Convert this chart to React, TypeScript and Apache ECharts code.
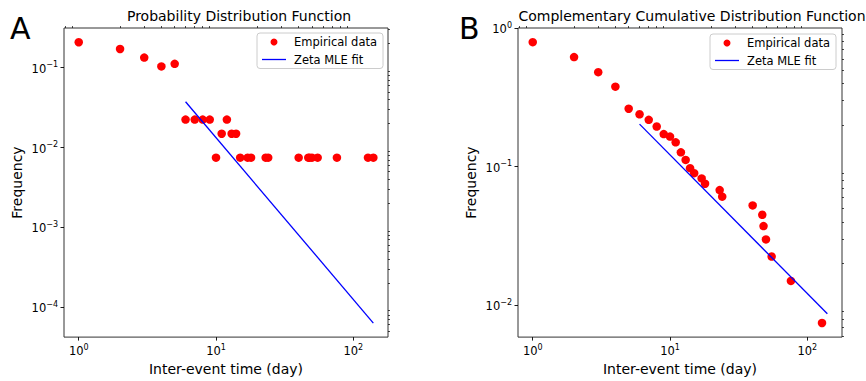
import React, { useEffect, useRef } from 'react';
import * as echarts from 'echarts';

const FONT = 'DejaVu Sans';

// Panel A: probability distribution (empirical)
const pdfX = [1, 2, 3, 4, 5, 6, 7, 8, 9, 10, 11, 12, 13, 14, 15, 17, 18, 23, 24, 40, 47, 48, 50, 55, 76, 128, 140];
const pdfY = [0.209, 0.172, 0.134, 0.104, 0.112, 0.0224, 0.0224, 0.0224, 0.0224, 0.00746, 0.0149, 0.0224, 0.0149, 0.0149, 0.00746,
  0.00746, 0.00746, 0.00746, 0.00746, 0.00746, 0.00746, 0.00746, 0.00746, 0.00746, 0.00746, 0.00746, 0.00746];

// Panel B: complementary cumulative distribution (empirical)
const ccdfX = [1, 2, 3, 4, 5, 6, 7, 8, 9, 10, 11, 12, 13, 14, 15, 17, 18, 23, 24, 40, 47, 48, 50, 55, 76, 128];
const ccdfY = [0.792, 0.618, 0.481, 0.378, 0.262, 0.239, 0.218, 0.195, 0.172, 0.165, 0.150, 0.127, 0.112, 0.0977, 0.0899,
  0.0824, 0.0754, 0.0678, 0.0608, 0.0526, 0.045, 0.0373, 0.0299, 0.0225, 0.015, 0.00746];

// Zeta MLE fit lines
const fitX = [6, 140];
const pdfFitY = [0.0375, 6.3e-5];
const ccdfFitY = [0.203, 0.0087];

// Tick values
const xMajor = [1, 10, 100];
const yMajorA = [1e-4, 1e-3, 1e-2, 1e-1];
const yMajorB = [1e-2, 1e-1, 1];

const xRange = [0.781, 179];
const yRangeA = [4.2e-5, 0.315];
const yRangeB = [0.0059, 1.002];

function fmtPow(v: number) {
  const e = Math.round(Math.log10(v));
  return '{b|10}{s|' + (e < 0 ? '−' : '') + Math.abs(e) + '}';
}

const labelRich = {
  b: { fontFamily: FONT, fontSize: 11.5, color: '#000', lineHeight: 14, verticalAlign: 'bottom' },
  s: { fontFamily: FONT, fontSize: 8, color: '#000', lineHeight: 9, verticalAlign: 'top', padding: [0, 0, 1, 0] },
};

function minorTicks(min: number, max: number) {
  const out: number[] = [];
  for (let k = Math.floor(Math.log10(min)); k <= Math.ceil(Math.log10(max)); k++) {
    for (let m = 2; m <= 9; m++) {
      const v = Number((m * Math.pow(10, k)).toPrecision(6));
      if (v >= min && v <= max) out.push(v);
    }
  }
  return out;
}

const tickColor = '#000';

function majorAxis(gridIndex: number, range: number[], ticks: number[], name: string, nameGap: number) {
  return {
    type: 'log',
    logBase: 10,
    gridIndex,
    min: range[0],
    max: range[1],
    name,
    nameLocation: 'middle',
    nameGap,
    nameTextStyle: { fontFamily: FONT, fontSize: 14, color: '#000' },
    axisLine: { show: false },
    axisTick: { show: true, inside: false, length: 3.5, customValues: ticks, lineStyle: { color: tickColor, width: 0.9 } },
    axisLabel: { show: true, customValues: ticks, margin: 6, formatter: fmtPow, rich: labelRich, color: '#000' },
    splitLine: { show: false },
    minorTick: { show: false },
  };
}

function minorAxis(gridIndex: number, range: number[]) {
  return {
    type: 'log',
    logBase: 10,
    gridIndex,
    min: range[0],
    max: range[1],
    axisLine: { show: false },
    axisTick: { show: true, inside: false, length: 2, customValues: minorTicks(range[0], range[1]), lineStyle: { color: tickColor, width: 0.7 } },
    axisLabel: { show: false },
    splitLine: { show: false },
    minorTick: { show: false },
  };
}

const toPairs = (xs: number[], ys: number[]) => xs.map((x, i) => [x, ys[i]]);

export default function App() {
  const ref = useRef<HTMLDivElement>(null);
  useEffect(() => {
    if (!ref.current) return;
    const chart = echarts.init(ref.current, undefined, { renderer: 'svg' });
    const legendBase = {
      orient: 'vertical',
      selectedMode: false,
      itemWidth: 24,
      itemHeight: 7,
      itemGap: 5.5,
      padding: [3, 6, 3, 5],
      borderColor: '#cccccc',
      borderWidth: 1,
      borderRadius: 3,
      backgroundColor: 'rgba(255,255,255,0.8)',
      textStyle: { fontFamily: FONT, fontSize: 11.5, color: '#000', padding: [0, 0, 0, 3] },
      data: [
        { name: 'Empirical data', icon: 'circle' },
        { name: 'Zeta MLE fit', icon: 'path://M0,0L24,0L24,1.3L0,1.3Z' },
      ],
    };
    chart.setOption({
      animation: false,
      backgroundColor: '#fff',
      textStyle: { fontFamily: FONT },
      title: [
        { text: 'Probability Distribution Function', left: 239, top: 9, textAlign: 'center', padding: 0,
          textStyle: { fontFamily: FONT, fontSize: 14, fontWeight: 'normal', color: '#000' } },
        { text: 'Complementary Cumulative Distribution Function', left: 692, top: 9, textAlign: 'center', padding: 0,
          textStyle: { fontFamily: FONT, fontSize: 14, fontWeight: 'normal', color: '#000' } },
      ],
      graphic: [
        { type: 'text', left: 10, top: 13, style: { text: 'A', fontFamily: FONT, fontSize: 30, fill: '#000' } },
        { type: 'text', left: 459, top: 13, style: { text: 'B', fontFamily: FONT, fontSize: 30, fill: '#000' } },
      ],
      legend: [
        { ...legendBase, left: 257, top: 33 },
        { ...legendBase, left: 710, top: 34 },
      ],
      grid: [
        { left: 64, top: 28, width: 324, height: 310, show: true, borderColor: '#333', borderWidth: 1, backgroundColor: 'transparent' },
        { left: 518, top: 28, width: 324, height: 310, show: true, borderColor: '#333', borderWidth: 1, backgroundColor: 'transparent' },
      ],
      xAxis: [
        majorAxis(0, xRange, xMajor, 'Inter-event time (day)', 23),
        majorAxis(1, xRange, xMajor, 'Inter-event time (day)', 23),
        minorAxis(0, xRange),
        minorAxis(1, xRange),
      ],
      yAxis: [
        majorAxis(0, yRangeA, yMajorA, 'Frequency', 40),
        majorAxis(1, yRangeB, yMajorB, 'Frequency', 40),
        minorAxis(0, yRangeA),
        minorAxis(1, yRangeB),
      ],
      series: [
        { name: 'Empirical data', type: 'scatter', xAxisIndex: 0, yAxisIndex: 0, symbol: 'circle', symbolSize: 8.5,
          itemStyle: { color: '#ff0000', opacity: 1 }, data: toPairs(pdfX, pdfY) },
        { name: 'Zeta MLE fit', type: 'line', xAxisIndex: 0, yAxisIndex: 0, symbol: 'none', showSymbol: false,
          lineStyle: { color: '#0000ff', width: 1.3 }, itemStyle: { color: '#0000ff' }, data: toPairs(fitX, pdfFitY) },
        { name: 'Empirical data', type: 'scatter', xAxisIndex: 1, yAxisIndex: 1, symbol: 'circle', symbolSize: 8.5,
          itemStyle: { color: '#ff0000', opacity: 1 }, data: toPairs(ccdfX, ccdfY) },
        { name: 'Zeta MLE fit', type: 'line', xAxisIndex: 1, yAxisIndex: 1, symbol: 'none', showSymbol: false,
          lineStyle: { color: '#0000ff', width: 1.3 }, itemStyle: { color: '#0000ff' }, data: toPairs(fitX, ccdfFitY) },
      ],
    });
    return () => chart.dispose();
  }, []);
  return <div ref={ref} style={{ position: 'absolute', left: 0, top: 0, width: 866, height: 381 }} />;
}
